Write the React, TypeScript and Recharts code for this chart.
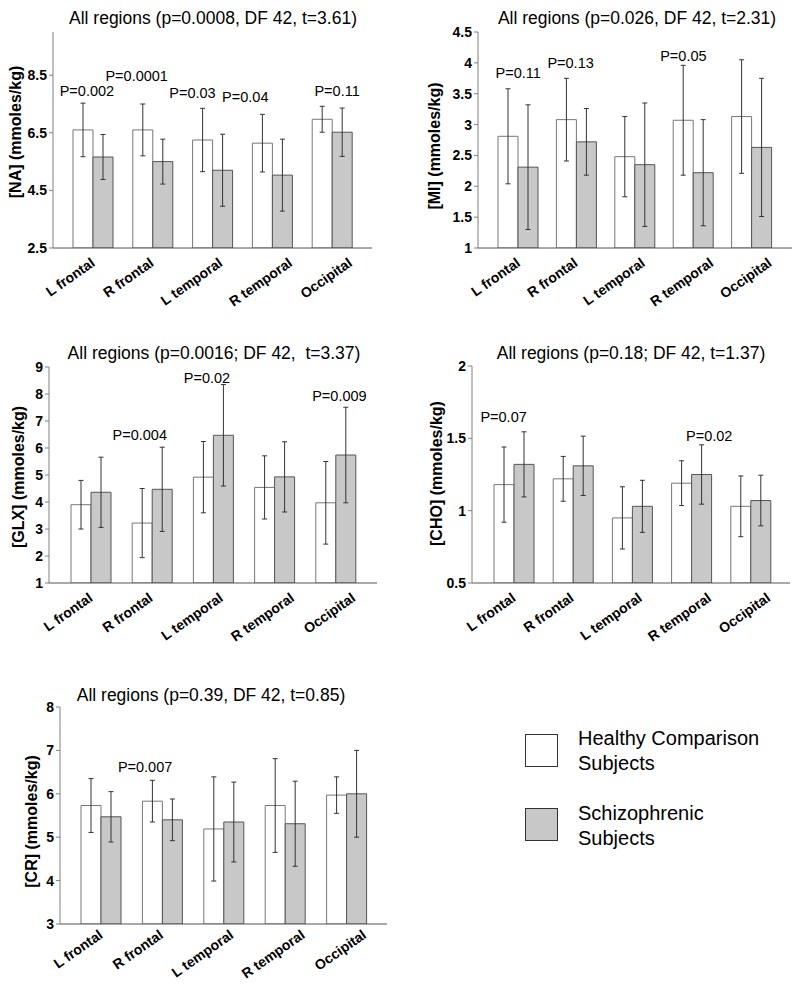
import React from "react";
import { BarChart, Bar, XAxis, YAxis, ErrorBar, ReferenceDot } from "recharts";

const regions = ["L frontal", "R frontal", "L temporal", "R temporal", "Occipital"];
const groupNames = ["Healthy Comparison Subjects", "Schizophrenic Subjects"];

// [NA]
const naHealthy = [6.6, 6.6, 6.25, 6.14, 6.97];
const naHealthySd = [0.93, 0.9, 1.1, 1.0, 0.45];
const naSchizo = [5.66, 5.5, 5.2, 5.03, 6.52];
const naSchizoSd = [0.78, 0.78, 1.25, 1.25, 0.84];
const naTicks = [2.5, 4.5, 6.5, 8.5];
const naP = [
  { region: "L frontal", text: "P=0.002", y: 7.95 },
  { region: "R frontal", text: "P=0.0001", y: 8.47 },
  { region: "L temporal", text: "P=0.03", y: 7.88 },
  { region: "R temporal", text: "P=0.04", y: 7.74 },
  { region: "Occipital", text: "P=0.11", y: 7.95 },
];

// [MI]
const miHealthy = [2.81, 3.08, 2.48, 3.07, 3.13];
const miHealthySd = [0.77, 0.67, 0.65, 0.89, 0.92];
const miSchizo = [2.31, 2.72, 2.35, 2.22, 2.63];
const miSchizoSd = [1.01, 0.54, 1.0, 0.86, 1.12];
const miTicks = [1, 1.5, 2, 2.5, 3, 3.5, 4, 4.5];
const miP = [
  { region: "L frontal", text: "P=0.11", y: 3.84 },
  { region: "R frontal", text: "P=0.13", y: 4.0 },
  { region: "R temporal", text: "P=0.05", y: 4.11 },
];

// [GLX]
const glxHealthy = [3.9, 3.22, 4.92, 4.54, 3.97];
const glxHealthySd = [0.9, 1.28, 1.32, 1.17, 1.53];
const glxSchizo = [4.36, 4.47, 6.47, 4.93, 5.74];
const glxSchizoSd = [1.3, 1.56, 1.88, 1.3, 1.77];
const glxTicks = [1, 2, 3, 4, 5, 6, 7, 8, 9];
const glxP = [
  { region: "R frontal", text: "P=0.004", y: 6.48 },
  { region: "L temporal", text: "P=0.02", y: 8.59 },
  { region: "Occipital", text: "P=0.009", y: 7.93 },
];

// [CHO]
const choHealthy = [1.18, 1.22, 0.95, 1.19, 1.03];
const choHealthySd = [0.26, 0.155, 0.215, 0.155, 0.21];
const choSchizo = [1.32, 1.31, 1.03, 1.25, 1.07];
const choSchizoSd = [0.225, 0.205, 0.18, 0.205, 0.175];
const choTicks = [0.5, 1, 1.5, 2];
const choP = [
  { region: "L frontal", text: "P=0.07", y: 1.65 },
  { region: "R temporal", text: "P=0.02", y: 1.52 },
];

// [CR]
const crHealthy = [5.73, 5.83, 5.19, 5.73, 5.97];
const crHealthySd = [0.62, 0.48, 1.2, 1.08, 0.42];
const crSchizo = [5.47, 5.4, 5.35, 5.31, 6.0];
const crSchizoSd = [0.58, 0.48, 0.92, 0.98, 1.0];
const crTicks = [3, 4, 5, 6, 7, 8];
const crP = [{ region: "R frontal", text: "P=0.007", y: 6.62 }];

const FONT = "'Liberation Sans', Arial, Helvetica, sans-serif";
const NARROW = "'Liberation Sans Narrow', 'Liberation Sans', Arial, sans-serif";
const Y_W = 40;
const X_H = 50;
// rotated category labels drift right a little, like the original
const tickShift = [3, 2, 11, 21, 21];

const toRows = (h: number[], hSd: number[], s: number[], sSd: number[]) =>
  regions.map((region, i) => ({
    region,
    healthy: h[i],
    healthySd: hSd[i],
    schizo: s[i],
    schizoSd: sSd[i],
  }));

const panels = [
  {
    title: "All regions (p=0.0008, DF 42, t=3.61)",
    titleX: 213,
    titleY: 18,
    yLabel: "[NA] (mmoles/kg)",
    yLabelX: 15,
    yLabelDy: -8,
    rows: toRows(naHealthy, naHealthySd, naSchizo, naSchizoSd),
    domain: [2.5, 10],
    ticks: naTicks,
    pLabels: naP,
    pShift: [-6, -16, -20, -27, 5],
    chart: { left: 0, top: 0, width: 400, height: 320 },
    box: { x0: 53, x1: 372, y0: 32, y1: 248 },
    pad: { left: 10, right: 10 },
    lift: 9,
  },
  {
    title: "All regions (p=0.026, DF 42, t=2.31)",
    titleX: 637,
    titleY: 18,
    yLabel: "[MI] (mmoles/kg)",
    yLabelX: 34,
    yLabelDy: 6,
    rows: toRows(miHealthy, miHealthySd, miSchizo, miSchizoSd),
    domain: [1, 4.5],
    ticks: miTicks,
    pLabels: miP,
    pShift: [0, -6, -10],
    chart: { left: 400, top: 0, width: 400, height: 320 },
    box: { x0: 478, x1: 792, y0: 32, y1: 248 },
    pad: { left: 11, right: 11 },
    lift: 9,
  },
  {
    title: "All regions (p=0.0016; DF 42,  t=3.37)",
    titleX: 214,
    titleY: 353,
    yLabel: "[GLX] (mmoles/kg)",
    yLabelX: 18,
    yLabelDy: 2,
    rows: toRows(glxHealthy, glxHealthySd, glxSchizo, glxSchizoSd),
    domain: [1, 9],
    ticks: glxTicks,
    pLabels: glxP,
    pShift: [-12, -6, 4],
    chart: { left: 0, top: 320, width: 400, height: 335 },
    box: { x0: 49, x1: 377, y0: 367, y1: 583 },
    pad: { left: 11, right: 11 },
    lift: 9,
  },
  {
    title: "All regions (p=0.18; DF 42, t=1.37)",
    titleX: 631,
    titleY: 353,
    yLabel: "[CHO] (mmoles/kg)",
    yLabelX: 36,
    yLabelDy: -1,
    rows: toRows(choHealthy, choHealthySd, choSchizo, choSchizoSd),
    domain: [0.5, 2],
    ticks: choTicks,
    pLabels: choP,
    pShift: [-10, 18],
    chart: { left: 400, top: 320, width: 400, height: 335 },
    box: { x0: 472, x1: 790, y0: 366, y1: 583 },
    pad: { left: 12, right: 10 },
    lift: 9,
  },
  {
    title: "All regions (p=0.39, DF 42, t=0.85)",
    titleX: 211,
    titleY: 695,
    yLabel: "[CR] (mmoles/kg)",
    yLabelX: 31,
    yLabelDy: 6,
    rows: toRows(crHealthy, crHealthySd, crSchizo, crSchizoSd),
    domain: [3, 8],
    ticks: crTicks,
    pLabels: crP,
    pShift: [-17],
    chart: { left: 0, top: 660, width: 400, height: 325 },
    box: { x0: 60, x1: 387, y0: 707, y1: 924 },
    pad: { left: 10, right: 10 },
    lift: 5,
  },
];

function RegionTick(props: any) {
  const { x, y, payload, index, lift } = props;
  return (
    <g transform={`translate(${x + tickShift[index]},${y + lift})`}>
      <text
        textAnchor="end"
        transform="rotate(-35)"
        fontSize={14}
        fontWeight="bold"
        fontFamily={FONT}
        fill="#000"
      >
        {payload.value}
      </text>
    </g>
  );
}

function Panel({ cfg }: { cfg: any }) {
  const { chart, box } = cfg;
  const margin = {
    top: box.y0 - chart.top,
    left: box.x0 - chart.left - Y_W,
    right: chart.left + chart.width - box.x1,
    bottom: chart.top + chart.height - box.y1 - X_H,
  };
  const labelY = (box.y0 + box.y1) / 2 - chart.top + cfg.yLabelDy;

  return (
    <div style={{ position: "absolute", left: chart.left, top: chart.top }}>
      <BarChart
        width={chart.width}
        height={chart.height}
        data={cfg.rows}
        margin={margin}
        barSize={20}
        barGap={0}
      >
        <XAxis
          dataKey="region"
          interval={0}
          tickLine={false}
          axisLine={{ stroke: "#555" }}
          padding={cfg.pad}
          height={X_H}
          tick={<RegionTick lift={cfg.lift} />}
        />
        <XAxis
          xAxisId="frame"
          orientation="top"
          dataKey="region"
          height={0}
          tick={false}
          tickLine={false}
          axisLine={{ stroke: "#808080" }}
        />
        <YAxis
          type="number"
          width={Y_W}
          domain={cfg.domain}
          ticks={cfg.ticks}
          allowDataOverflow
          interval={0}
          tickSize={4}
          tickMargin={2}
          axisLine={{ stroke: "#808080" }}
          tickLine={{ stroke: "#808080" }}
          tick={{ fontSize: 14, fontWeight: "bold", fill: "#000", fontFamily: NARROW }}
          label={{
            content: () => (
              <text
                x={cfg.yLabelX}
                y={labelY}
                transform={`rotate(-90, ${cfg.yLabelX}, ${labelY})`}
                textAnchor="middle"
                dominantBaseline="central"
                fontSize={16}
                fontWeight="bold"
                fontFamily={FONT}
                fill="#000"
              >
                {cfg.yLabel}
              </text>
            ),
          }}
        />
        <YAxis
          yAxisId="frame"
          orientation="right"
          type="number"
          domain={[0, 1]}
          width={0}
          tick={false}
          tickLine={false}
          axisLine={{ stroke: "#808080" }}
        />
        <Bar
          dataKey="healthy"
          name={groupNames[0]}
          fill="#ffffff"
          stroke="#777"
          strokeWidth={1}
          isAnimationActive={false}
        >
          <ErrorBar dataKey="healthySd" direction="y" width={2.5} stroke="#333" strokeWidth={1} />
        </Bar>
        <Bar
          dataKey="schizo"
          name={groupNames[1]}
          fill="#c8c8c8"
          stroke="#555"
          strokeWidth={1}
          isAnimationActive={false}
        >
          <ErrorBar dataKey="schizoSd" direction="y" width={2.5} stroke="#333" strokeWidth={1} />
        </Bar>
        {cfg.pLabels.map((p: any, i: number) => (
          <ReferenceDot
            key={p.text + p.region}
            x={p.region}
            y={p.y}
            r={0}
            ifOverflow="visible"
            shape={(s: any) => (
              <text
                x={s.cx + cfg.pShift[i]}
                y={s.cy}
                dy="0.35em"
                textAnchor="middle"
                fontSize={14.5}
                fontFamily={FONT}
                fill="#000"
              >
                {p.text}
              </text>
            )}
          />
        ))}
      </BarChart>
    </div>
  );
}

const legendFills = ["#ffffff", "#c8c8c8"];

export default function App() {
  return (
    <div
      style={{
        position: "relative",
        width: 800,
        height: 985,
        background: "#fff",
        fontFamily: FONT,
        overflow: "hidden",
      }}
    >
      <style>{`body{margin:0;}`}</style>
      {panels.map((cfg) => (
        <React.Fragment key={cfg.yLabel}>
          <Panel cfg={cfg} />
          <div
            style={{
              position: "absolute",
              left: cfg.titleX - 200,
              top: cfg.titleY - 10,
              width: 400,
              lineHeight: "20px",
              textAlign: "center",
              fontSize: 17.5,
              color: "#000",
              whiteSpace: "pre",
            }}
          >
            {cfg.title}
          </div>
        </React.Fragment>
      ))}
      {groupNames.map((name, i) => (
        <React.Fragment key={name}>
          <div
            style={{
              position: "absolute",
              left: 525,
              top: 734 + i * 74,
              width: 33,
              height: 33,
              boxSizing: "border-box",
              border: "1.5px solid #333",
              background: legendFills[i],
            }}
          />
          <div
            style={{
              position: "absolute",
              left: 578,
              top: 726 + i * 75,
              width: 200,
              fontSize: 20,
              lineHeight: "25px",
              color: "#000",
            }}
          >
            {name}
          </div>
        </React.Fragment>
      ))}
    </div>
  );
}
